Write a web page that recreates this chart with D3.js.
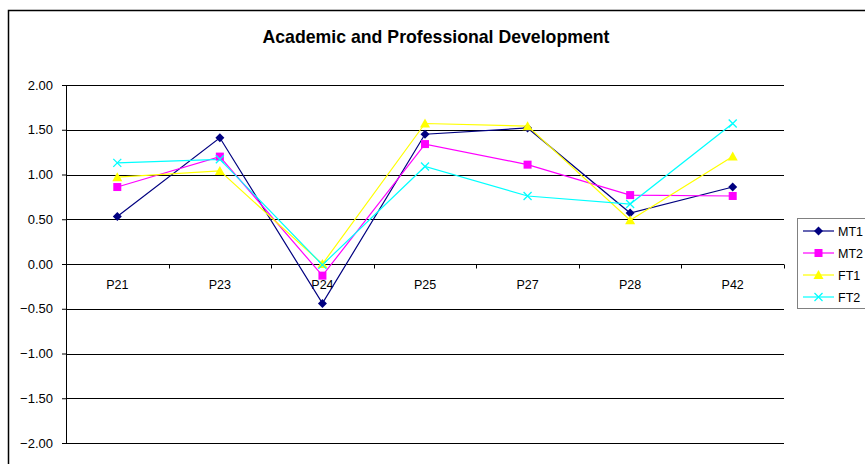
<!DOCTYPE html>
<html>
<head>
<meta charset="utf-8">
<script src="https://cdn.jsdelivr.net/npm/d3@7/dist/d3.min.js"></script>
<style>
  body { margin: 0; background: #fff; }
  text { font-family: "Liberation Sans", Arial, sans-serif; }
</style>
</head>
<body>
<div id="chart"></div>
<script>
var categories = ["P21", "P23", "P24", "P25", "P27", "P28", "P42"];
var seriesNames = ["MT1", "MT2", "FT1", "FT2"];
var mt1 = [0.53, 1.41, -0.44, 1.45, 1.52, 0.57, 0.86];
var mt2 = [0.86, 1.20, -0.13, 1.34, 1.11, 0.77, 0.76];
var ft1 = [0.97, 1.04, 0.00, 1.57, 1.54, 0.49, 1.20];
var ft2 = [1.13, 1.17, -0.01, 1.09, 0.76, 0.67, 1.57];
var yTicks = [-2, -1.5, -1, -0.5, 0, 0.5, 1, 1.5, 2];

(function() {
  var W = 865, H = 464;
  var margin = { top: 85, left: 66, right: 81, bottom: 21 },
    width = W - margin.left - margin.right,
    height = H - margin.top - margin.bottom;

  var svg = d3.select("#chart").append("svg")
    .attr("width", W)
    .attr("height", H)
    .style("display", "block");

  // outer chart frame (runs off the right and bottom)
  svg.append("path")
    .attr("d", "M8.5," + H + "V10.5H" + W)
    .attr("fill", "none")
    .attr("stroke", "#000")
    .attr("stroke-width", 1.5);

  svg.append("text")
    .attr("x", 436).attr("y", 43)
    .attr("text-anchor", "middle")
    .attr("font-size", "17.7px")
    .attr("font-weight", "bold")
    .text("Academic and Professional Development");

  var g = svg.append("g")
    .attr("transform", "translate(" + margin.left + "," + margin.top + ")");

  var x = d3.scalePoint().domain(categories).range([0, width]).padding(0.5);
  var xBand = d3.scaleBand().domain(categories).range([0, width]);
  var y = d3.scaleLinear().domain([-2, 2]).range([height, 0]);

  // gridlines
  g.selectAll("line.grid")
    .data(yTicks)
    .enter().append("line")
    .attr("class", "grid")
    .attr("x1", 0).attr("x2", width)
    .attr("y1", function(d) { return Math.round(y(d)) + 0.5; })
    .attr("y2", function(d) { return Math.round(y(d)) + 0.5; })
    .attr("stroke", "#000")
    .attr("stroke-width", 1);

  // y axis
  var yAxis = d3.axisLeft(y)
    .tickValues(yTicks)
    .tickSize(4)
    .tickPadding(9)
    .tickFormat(d3.format(".2f"));
  var yg = g.append("g")
    .attr("class", "axis y-axis")
    .call(yAxis);
  yg.select(".domain").attr("stroke", "#000");
  yg.selectAll("text").attr("font-size", "13px").attr("fill", "#000")
    .attr("font-family", "Liberation Sans, Arial, sans-serif");

  // category axis at zero
  var zeroY = Math.round(y(0)) + 0.5;
  var bounds = categories.map(function(c) { return xBand(c); }).concat([width]);
  g.selectAll("line.cat-tick")
    .data(bounds)
    .enter().append("line")
    .attr("class", "cat-tick")
    .attr("x1", function(d) { return Math.round(d) + 0.5; })
    .attr("x2", function(d) { return Math.round(d) + 0.5; })
    .attr("y1", zeroY).attr("y2", zeroY + 4)
    .attr("stroke", "#000");

  g.selectAll("text.cat")
    .data(categories)
    .enter().append("text")
    .attr("class", "cat")
    .attr("x", function(d) { return x(d); })
    .attr("y", zeroY + 24)
    .attr("text-anchor", "middle")
    .attr("font-size", "12.5px")
    .text(function(d) { return d; });

  var series = [
    { name: seriesNames[0], values: mt1, color: "#000080", marker: "diamond" },
    { name: seriesNames[1], values: mt2, color: "#FF00FF", marker: "square" },
    { name: seriesNames[2], values: ft1, color: "#FFFF00", marker: "triangle" },
    { name: seriesNames[3], values: ft2, color: "#00FFFF", marker: "x" }
  ];

  var line = d3.line()
    .x(function(d, i) { return x(categories[i]); })
    .y(function(d) { return y(d); });

  function drawMarker(sel, type, color) {
    if (type === "diamond") {
      sel.append("path").attr("d", "M0,-4.5L4.5,0L0,4.5L-4.5,0Z").attr("fill", color);
    } else if (type === "square") {
      sel.append("rect").attr("x", -4).attr("y", -4).attr("width", 8).attr("height", 8).attr("fill", color);
    } else if (type === "triangle") {
      sel.append("path").attr("d", "M0,-5L5,4L-5,4Z").attr("fill", color);
    } else {
      sel.append("path").attr("d", "M-4,-4L4,4M-4,4L4,-4")
        .attr("stroke", color).attr("stroke-width", 1.3).attr("fill", "none");
    }
  }

  series.forEach(function(s) {
    g.append("path")
      .datum(s.values)
      .attr("d", line)
      .attr("fill", "none")
      .attr("stroke", s.color)
      .attr("stroke-width", 1.2);
  });

  series.forEach(function(s) {
    s.values.forEach(function(v, i) {
      var m = g.append("g")
        .attr("transform", "translate(" + x(categories[i]) + "," + y(v) + ")");
      drawMarker(m, s.marker, s.color);
    });
  });

  // legend
  var lg = svg.append("g").attr("transform", "translate(797,218)");
  lg.append("rect")
    .attr("x", 0.5).attr("y", 0.5)
    .attr("width", 80).attr("height", 90)
    .attr("fill", "#fff")
    .attr("stroke", "#808080");
  series.forEach(function(s, i) {
    var row = lg.append("g").attr("transform", "translate(0," + (13 + i * 22) + ")");
    row.append("line")
      .attr("x1", 6).attr("x2", 37)
      .attr("y1", 0).attr("y2", 0)
      .attr("stroke", s.color)
      .attr("stroke-width", 1.2);
    var m = row.append("g").attr("transform", "translate(21.5,0)");
    drawMarker(m, s.marker, s.color);
    row.append("text")
      .attr("x", 41).attr("y", 4.5)
      .attr("font-size", "12.5px")
      .text(s.name);
  });
})();
</script>
</body>
</html>
